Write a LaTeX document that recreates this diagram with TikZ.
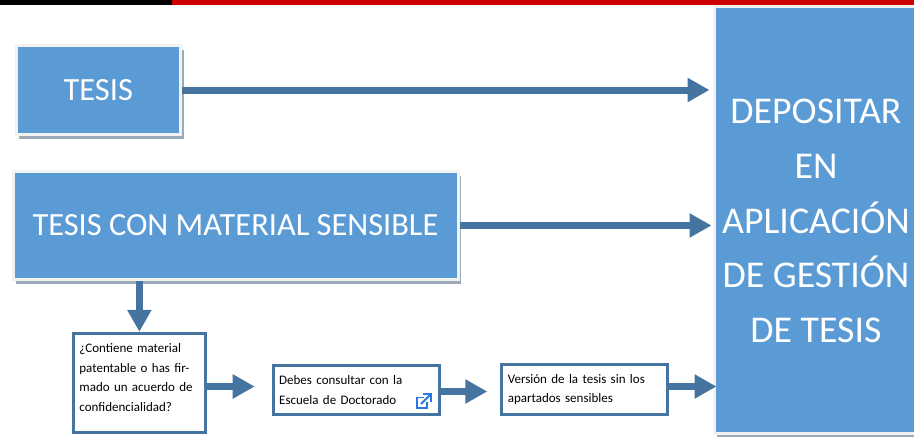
\documentclass[tikz,border=0pt]{standalone}
\usepackage{fontspec}
\setmainfont{Carlito}
\usepackage{xcolor}
\usetikzlibrary{arrows.meta,shadows}
\definecolor{boxblue}{HTML}{5B9BD5}
\definecolor{linkblue}{HTML}{44749F}
\definecolor{iconblue}{HTML}{2A78E4}
\definecolor{barred}{HTML}{CC0000}
\definecolor{shadowgrey}{HTML}{9AAAB8}
\tikzset{
  bluebox/.style={draw=black!5,line width=3pt,fill=boxblue,text=white,font=\fontsize{32.4}{36}\selectfont,
    drop shadow={shadow xshift=3pt,shadow yshift=-4pt,fill=shadowgrey,opacity=1}},
  smallbox/.style={draw=linkblue,line width=3pt,fill=white,text=black,align=left,inner xsep=6pt,inner ysep=0pt,
    font=\fontsize{13}{19.5}\selectfont},
  flowarrow/.style={draw=linkblue,line width=7pt,-{Triangle[length=22pt,width=23pt]}},
}
\begin{document}
\begin{tikzpicture}[x=1pt,y=-1pt]
\useasboundingbox (0,0) rectangle (914,439);
\fill (0,0) rectangle (172,5);
\fill[barred] (172,0) rectangle (914,5);
\node[bluebox,minimum width=164.5pt,minimum height=89pt] (tesis) at (98.3,90) {\raisebox{-1.5pt}{TESIS}};
\node[bluebox,minimum width=445pt,minimum height=108pt] (sensible) at (235.5,225.5) {\raisebox{-1.5pt}{TESIS CON MATERIAL SENSIBLE}};
\node[bluebox,minimum width=204pt,minimum height=427pt] (depositar) at (816,219.5) {};
\node[text=white,align=center,font=\fontsize{37.8}{54.7}\selectfont] (depositarlabel) at (816,221)
  {DEPOSITAR\\EN\\APLICACIÓN\\DE GESTIÓN\\DE TESIS};
\node[smallbox,text width=120pt,minimum height=99pt] (contiene) at (139.4,382.8)
  {¿Contiene material\\patentable o has fir-\\mado un acuerdo de\\confidencialidad?\par\vspace{11pt}};
\node[smallbox,text width=154pt,minimum height=48.5pt] (consultar) at (356.2,389.8)
  {Debes consultar con la\\Escuela de Doctorado};
\node[smallbox,text width=154pt,minimum height=50pt] (version) at (584.8,389.7)
  {Versión de la tesis sin los\\apartados sensibles};
\draw[flowarrow,shorten >=3pt] (tesis.east) -- (tesis.east -| depositar.west);
\draw[flowarrow,shorten >=1pt] (sensible.east) -- (sensible.east -| depositar.west);
\draw[flowarrow] (sensible.south -| contiene.north) -- (contiene.north);
\draw[flowarrow,shorten >=17pt] (contiene.east |- 0,386.5) -- (consultar.west |- 0,386.5);
\draw[flowarrow,shorten >=13pt] (consultar.east |- 0,391.5) -- (version.west |- 0,391.5);
\draw[flowarrow,shorten >=-4pt] (version.east |- 0,386.5) -- (depositar.west |- 0,386.5);
% external link icon
\draw[iconblue,line width=1.8pt] (424,397.5) -- (417,397.5) -- (417,408) -- (427,408) -- (427,402);
\draw[iconblue,line width=1.8pt] (423,394) -- (431,394) -- (431,402);
\draw[iconblue,line width=1.8pt] (431,394) -- (421,404);
\end{tikzpicture}
\end{document}
